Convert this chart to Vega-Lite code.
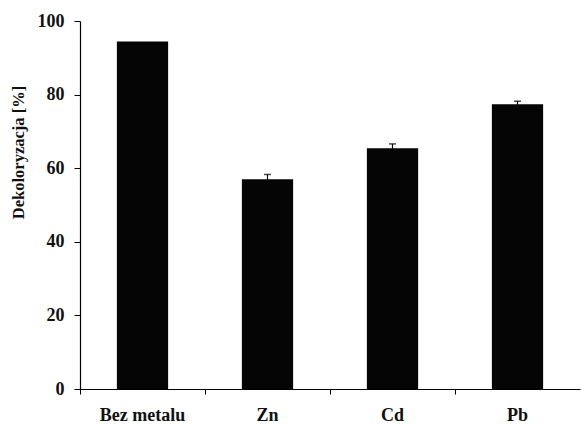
{
  "$schema": "https://vega.github.io/schema/vega-lite/v6.json",
  "width": 500,
  "height": 368,
  "autosize": {"type": "none"},
  "padding": {"left": 80, "top": 21, "right": 2, "bottom": 35},
  "background": "white",
  "config": {
    "view": {"stroke": null},
    "font": "Liberation Serif"
  },
  "data": {
    "values": [
      {"metal": "Bez metalu", "value": 94.4, "err": 0},
      {"metal": "Zn", "value": 57.0, "err": 1.3},
      {"metal": "Cd", "value": 65.4, "err": 1.2},
      {"metal": "Pb", "value": 77.4, "err": 0.8}
    ]
  },
  "encoding": {
    "x": {
      "field": "metal",
      "type": "nominal",
      "sort": ["Bez metalu", "Zn", "Cd", "Pb"],
      "scale": {"paddingInner": 0, "paddingOuter": 0},
      "axis": {
        "title": null,
        "labelAngle": 0,
        "bandPosition": 0,
        "domainColor": "black",
        "domainWidth": 1.2,
        "tickColor": "black",
        "tickSize": 5,
        "labelPadding": 12,
        "labelFont": "Liberation Serif",
        "labelFontWeight": "bold",
        "labelFontSize": 18,
        "labelColor": "#111"
      }
    }
  },
  "layer": [
    {
      "mark": {"type": "bar", "width": {"band": 0.41}, "color": "#050505"},
      "encoding": {
        "y": {
          "field": "value",
          "type": "quantitative",
          "scale": {"domain": [0, 100], "nice": false},
          "axis": {
            "values": [0, 20, 40, 60, 80, 100],
            "grid": false,
            "domainColor": "black",
            "domainWidth": 1.2,
            "tickColor": "black",
            "tickSize": 6,
            "labelPadding": 10,
            "labelFont": "Liberation Serif",
            "labelFontWeight": "bold",
            "labelFontSize": 18,
            "labelColor": "#111",
            "title": "Dekoloryzacja [%]",
            "titleFont": "Liberation Serif",
            "titleFontWeight": "bold",
            "titleFontSize": 16.5,
            "titleColor": "#111",
            "titleAngle": 270,
            "titleBaseline": "alphabetic",
            "titleAlign": "center",
            "titleX": -57,
            "titleY": 131
          }
        }
      }
    },
    {
      "transform": [
        {"filter": "datum.err > 0"},
        {"calculate": "datum.value + datum.err", "as": "hi"},
        {"calculate": "datum.value - datum.err", "as": "lo"}
      ],
      "mark": {"type": "rule", "color": "black", "strokeWidth": 1.2},
      "encoding": {
        "y": {"field": "lo", "type": "quantitative"},
        "y2": {"field": "hi"}
      }
    },
    {
      "transform": [
        {"filter": "datum.err > 0"},
        {"calculate": "datum.value + datum.err", "as": "hi"}
      ],
      "mark": {"type": "tick", "color": "black", "size": 7, "thickness": 1.5},
      "encoding": {
        "y": {"field": "hi", "type": "quantitative"}
      }
    }
  ]
}
